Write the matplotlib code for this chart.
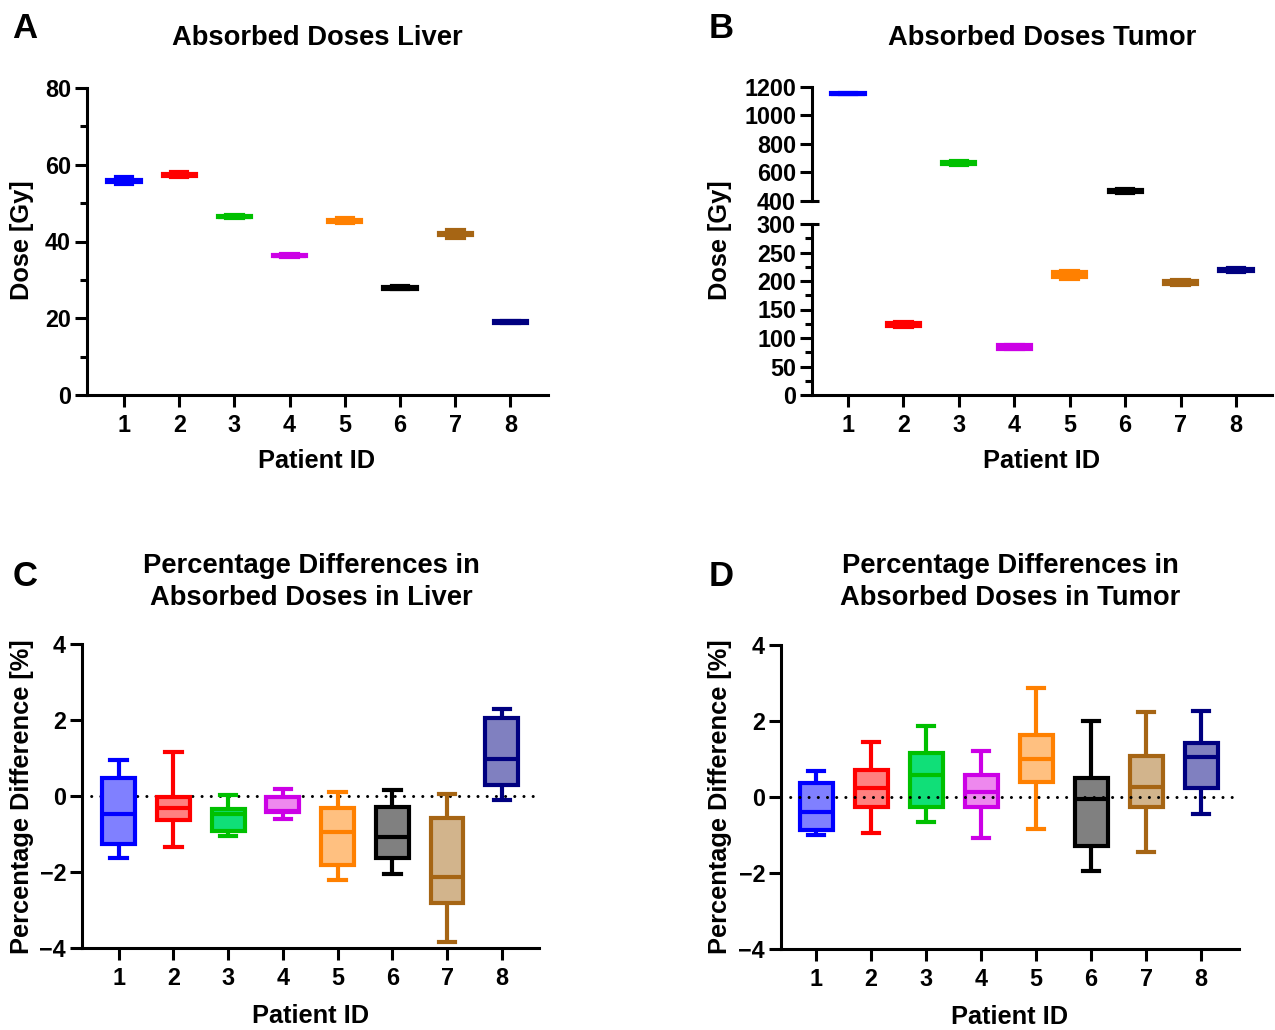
import matplotlib
matplotlib.use("Agg")
import matplotlib.pyplot as plt
from matplotlib.ticker import MultipleLocator

plt.rcParams['font.family'] = ['Liberation Sans', 'DejaVu Sans']
plt.rcParams['font.weight'] = 'bold'

# ---- data ----
patients = [1, 2, 3, 4, 5, 6, 7, 8]
edge_colors = ['#0000FF', '#FF0000', '#00C000', '#CC00E6', '#FF8000', '#000000', '#A66514', '#000080']
fill_colors = ['#8080FF', '#FF8080', '#10DF78', '#EE88EE', '#FFC080', '#808080', '#D2B48C', '#8080C0']

# A: absorbed doses liver [Gy]
liver_min = [55.1, 56.7, 46.1, 35.9, 44.8, 27.5, 41.0, 18.7]
liver_q1 = [55.6, 57.0, 46.3, 36.1, 45.1, 27.7, 41.8, 18.8]
liver_med = [55.8, 57.3, 46.5, 36.3, 45.3, 27.9, 42.0, 19.0]
liver_q3 = [56.1, 57.5, 46.7, 36.5, 45.5, 28.1, 42.2, 19.2]
liver_max = [56.8, 58.2, 46.9, 36.7, 46.0, 28.3, 42.9, 19.4]

# B: absorbed doses tumor [Gy]
tumor_min = [1146, 120, 654, 80, 204, 457, 193, 215]
tumor_q1 = [1148, 121, 660, 81, 207, 463, 194, 217]
tumor_med = [1151, 124, 665, 84, 211, 468, 197, 219]
tumor_q3 = [1154, 127, 670, 87, 215, 473, 200, 221]
tumor_max = [1156, 128, 676, 88, 218, 479, 201, 223]

# C: percentage differences liver [%]
pdl_min = [-1.64, -1.34, -1.04, -0.60, -2.20, -2.04, -3.84, -0.10]
pdl_q1 = [-1.25, -0.63, -0.91, -0.42, -1.82, -1.64, -2.82, 0.28]
pdl_med = [-0.47, -0.31, -0.47, -0.40, -0.94, -1.09, -2.12, 0.97]
pdl_q3 = [0.48, -0.02, -0.34, -0.03, -0.32, -0.30, -0.59, 2.06]
pdl_max = [0.95, 1.15, 0.02, 0.18, 0.10, 0.16, 0.05, 2.29]

# D: percentage differences tumor [%]
pdt_min = [-1.01, -0.94, -0.67, -1.07, -0.84, -1.96, -1.46, -0.45]
pdt_q1 = [-0.88, -0.26, -0.27, -0.25, 0.40, -1.30, -0.25, 0.25]
pdt_med = [-0.39, 0.25, 0.59, 0.14, 1.01, -0.04, 0.26, 1.04]
pdt_q3 = [0.38, 0.71, 1.17, 0.59, 1.64, 0.49, 1.08, 1.41]
pdt_max = [0.68, 1.44, 1.87, 1.22, 2.88, 1.99, 2.25, 2.27]

W, H = 1275, 1030
fig = plt.figure(figsize=(W / 100, H / 100), dpi=100)


def px_axes(l, t, r, b):
    return fig.add_axes([l / W, 1 - b / H, (r - l) / W, (b - t) / H])


def style_axes(ax, show_x=True):
    for s in ['top', 'right']:
        ax.spines[s].set_visible(False)
    for s in ['left', 'bottom']:
        ax.spines[s].set_linewidth(2.2)
    ax.tick_params(axis='both', which='major', width=2.2, length=8.5, labelsize=16.8)
    ax.tick_params(axis='y', which='major', pad=3)
    ax.tick_params(axis='x', which='major', pad=5)
    ax.tick_params(axis='both', which='minor', width=2.2, length=5)
    ax.set_xlim(0.33, 8.68)
    if show_x:
        ax.set_xticks(patients)
        ax.set_xticklabels([str(p) for p in patients])
    else:
        ax.spines['bottom'].set_visible(False)
        ax.set_xticks([])


def draw_boxes(ax, mins, q1s, meds, q3s, maxs, zorder=2):
    stats = []
    for lo, a, m, b, hi in zip(mins, q1s, meds, q3s, maxs):
        stats.append(dict(whislo=lo, q1=a, med=m, q3=b, whishi=hi, fliers=[]))
    bp = ax.bxp(stats, positions=patients, widths=0.6, capwidths=0.3, patch_artist=True,
                manage_ticks=False, zorder=zorder,
                boxprops=dict(linewidth=3),
                whiskerprops=dict(linewidth=3, solid_capstyle='butt'),
                capprops=dict(linewidth=3, solid_capstyle='projecting'),
                medianprops=dict(linewidth=3, solid_capstyle='butt'))
    for i in range(len(patients)):
        bp['boxes'][i].set_facecolor(fill_colors[i])
        bp['boxes'][i].set_edgecolor(edge_colors[i])
        bp['boxes'][i].set_joinstyle('miter')
        bp['medians'][i].set_color(edge_colors[i])
        for ln in bp['whiskers'][2 * i:2 * i + 2] + bp['caps'][2 * i:2 * i + 2]:
            ln.set_color(edge_colors[i])
    return bp


# ---- A ----
axA = px_axes(87, 88, 548, 395)
style_axes(axA)
draw_boxes(axA, liver_min, liver_q1, liver_med, liver_q3, liver_max)
axA.set_ylim(0, 80)
axA.set_yticks([0, 20, 40, 60, 80])
axA.yaxis.set_minor_locator(MultipleLocator(10))

# ---- B (broken axis) ----
axBt = px_axes(812, 86.7, 1272, 200.7)
axBb = px_axes(812, 224, 1272, 395)
style_axes(axBt, show_x=False)
style_axes(axBb)
draw_boxes(axBt, tumor_min, tumor_q1, tumor_med, tumor_q3, tumor_max)
draw_boxes(axBb, tumor_min, tumor_q1, tumor_med, tumor_q3, tumor_max)
axBt.set_xlim(0.35, 8.65)
axBb.set_xlim(0.35, 8.65)
axBt.set_ylim(400, 1200)
axBt.set_yticks([400, 600, 800, 1000, 1200])
axBb.set_ylim(0, 300)
axBb.set_yticks([0, 50, 100, 150, 200, 250, 300])
axBb.yaxis.set_minor_locator(MultipleLocator(25))
# break marks
axBt.plot([0, 0.016], [0, 0], transform=axBt.transAxes, color='k', lw=2.2, clip_on=False,
          solid_capstyle='butt')
axBb.plot([0, 0.016], [1, 1], transform=axBb.transAxes, color='k', lw=2.2, clip_on=False,
          solid_capstyle='butt')

# ---- C ----
axC = px_axes(82, 644, 539, 948)
style_axes(axC)
axC.axhline(0, color='k', lw=2.2, ls=(0, (0.01, 3.0)), dash_capstyle='round', zorder=1)
draw_boxes(axC, pdl_min, pdl_q1, pdl_med, pdl_q3, pdl_max, zorder=2)
axC.set_ylim(-4, 4)
axC.set_yticks([-4, -2, 0, 2, 4])

# ---- D ----
axD = px_axes(781, 645, 1239, 949)
style_axes(axD)
axD.set_xlim(0.36, 8.69)
draw_boxes(axD, pdt_min, pdt_q1, pdt_med, pdt_q3, pdt_max, zorder=2)
axD.axhline(0, color='k', lw=2.2, ls=(0, (0.01, 3.0)), dash_capstyle='round', zorder=3)
axD.set_ylim(-4, 4)
axD.set_yticks([-4, -2, 0, 2, 4])

# ---- texts ----
def ftext(x, y, s, size, **kw):
    fig.text(x / W, 1 - y / H, s, fontsize=size, fontweight='bold', ha='center', va='center', **kw)

ftext(25, 28, 'A', 25)
ftext(721, 28, 'B', 25)
ftext(25, 576, 'C', 25)
ftext(721, 576, 'D', 25)

ftext(317, 38, 'Absorbed Doses Liver', 19.7)
ftext(1042, 38, 'Absorbed Doses Tumor', 19.7)
ftext(311, 582, 'Percentage Differences in\nAbsorbed Doses in Liver', 19.7, linespacing=1.3)
ftext(1010, 582, 'Percentage Differences in\nAbsorbed Doses in Tumor', 19.7, linespacing=1.3)

ftext(22, 240, 'Dose [Gy]', 18.3, rotation=90)
ftext(720, 240, 'Dose [Gy]', 18.3, rotation=90)
ftext(22, 797, 'Percentage Difference [%]', 18.3, rotation=90)
ftext(720, 797, 'Percentage Difference [%]', 18.3, rotation=90)

ftext(317, 461, 'Patient ID', 18.3)
ftext(1042, 461, 'Patient ID', 18.3)
ftext(311, 1016, 'Patient ID', 18.3)
ftext(1010, 1017, 'Patient ID', 18.3)

fig.savefig('out.png', dpi=100)
